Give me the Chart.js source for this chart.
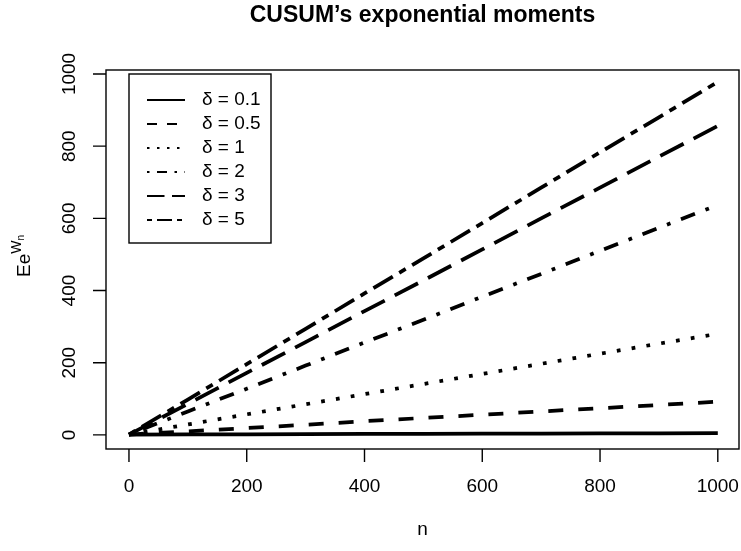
<!DOCTYPE html>
<html>
<head>
<meta charset="utf-8">
<script src="https://cdn.jsdelivr.net/npm/chart.js@4/dist/chart.umd.min.js"></script>
<style>
  html, body { margin: 0; padding: 0; background: #fff; }
  #wrap { width: 741px; height: 551px; position: relative; }
</style>
</head>
<body>
<div id="wrap"><canvas id="chart"></canvas></div>
<script>
const nValues = [0, 100, 200, 300, 400, 500, 600, 700, 800, 900, 1000];

// E e^{W_n} for each delta
const delta01 = [1, 1.4, 1.8, 2.2, 2.6, 3, 3.4, 3.8, 4.2, 4.6, 5];
const delta05 = [1, 10, 19, 28, 38, 47, 56, 65, 74, 83, 92];
const delta1 = [1, 29, 57, 85, 113, 141, 169, 197, 225, 253, 280];
const delta2 = [1, 65, 128, 192, 256, 319, 383, 446, 510, 574, 637];
const delta3 = [1, 86, 172, 257, 343, 428, 514, 600, 685, 771, 856];
const delta5 = [1, 98, 196, 294, 392, 489, 587, 685, 783, 880, 978];

const deltaLabels = ['0.1', '0.5', '1', '2', '3', '5'];
const xTicks = [0, 200, 400, 600, 800, 1000];
const yTicks = [0, 200, 400, 600, 800, 1000];

const FONT = '"Liberation Sans", Arial, Helvetica, sans-serif';

// R line types: solid, dashed, dotted, dotdash, longdash, twodash
const ltyUnits = [[], [4, 4], [1, 3], [1, 3, 4, 3], [7, 3], [2, 2, 6, 2]];
const plotUnit = 3.75;
const legendUnit = 2.5;

const seriesValues = [delta01, delta05, delta1, delta2, delta3, delta5];

const datasets = seriesValues.map((vals, i) => ({
  label: 'δ = ' + deltaLabels[i],
  data: nValues.map((n, j) => ({ x: n, y: vals[j] })),
  borderColor: '#000',
  borderWidth: 3.75,
  borderDash: ltyUnits[i].map(u => u * plotUnit),
  borderCapStyle: 'butt',
  borderJoinStyle: 'round',
  pointRadius: 0,
  tension: 0,
  fill: false
}));

const rDecorations = {
  id: 'rDecorations',
  afterDraw(chart) {
    const ctx = chart.ctx;
    const area = chart.chartArea;
    const xs = chart.scales.x;
    const ys = chart.scales.y;
    ctx.save();
    ctx.strokeStyle = '#000';
    ctx.fillStyle = '#000';
    ctx.lineWidth = 1.4;

    // plot box
    ctx.strokeRect(area.left, area.top, area.right - area.left, area.bottom - area.top);

    // x axis ticks and labels
    ctx.font = '19px ' + FONT;
    ctx.textAlign = 'center';
    ctx.textBaseline = 'middle';
    ctx.beginPath();
    xTicks.forEach(v => {
      const px = xs.getPixelForValue(v);
      ctx.moveTo(px, area.bottom);
      ctx.lineTo(px, area.bottom + 13);
    });
    ctx.stroke();
    xTicks.forEach(v => {
      ctx.fillText(String(v), xs.getPixelForValue(v), 487);
    });

    // y axis ticks and rotated labels
    ctx.beginPath();
    yTicks.forEach(v => {
      const py = ys.getPixelForValue(v);
      ctx.moveTo(area.left, py);
      ctx.lineTo(area.left - 13, py);
    });
    ctx.stroke();
    yTicks.forEach(v => {
      ctx.save();
      ctx.translate(70, ys.getPixelForValue(v));
      ctx.rotate(-Math.PI / 2);
      ctx.fillText(String(v), 0, 0);
      ctx.restore();
    });

    // title
    ctx.font = 'bold 23px ' + FONT;
    ctx.textBaseline = 'alphabetic';
    ctx.fillText("CUSUM\u2019s exponential moments", (area.left + area.right) / 2, 22);

    // x label
    ctx.font = '19px ' + FONT;
    ctx.textBaseline = 'middle';
    ctx.fillText('n', (area.left + area.right) / 2, 530);

    // y label: E e^{W_n}
    ctx.save();
    ctx.translate(30, 256);
    ctx.rotate(-Math.PI / 2);
    ctx.textAlign = 'left';
    ctx.textBaseline = 'alphabetic';
    ctx.font = '19px ' + FONT;
    const wBase = ctx.measureText('Ee').width;
    ctx.font = '14px ' + FONT;
    const wW = ctx.measureText('W').width;
    ctx.font = '10px ' + FONT;
    const wN = ctx.measureText('n').width;
    const total = wBase + wW + wN;
    let x0 = -total / 2;
    ctx.font = '19px ' + FONT;
    ctx.fillText('Ee', x0, 0);
    ctx.font = '14px ' + FONT;
    ctx.fillText('W', x0 + wBase, -9);
    ctx.font = '10px ' + FONT;
    ctx.fillText('n', x0 + wBase + wW, -6);
    ctx.restore();

    // legend
    const lx = 129, ly = 74, lw = 142, lh = 169;
    ctx.lineWidth = 1.4;
    ctx.strokeRect(lx, ly, lw, lh);
    ctx.font = '19px ' + FONT;
    ctx.textAlign = 'left';
    ctx.textBaseline = 'middle';
    deltaLabels.forEach((d, i) => {
      const rowY = 100 + i * 24;
      ctx.save();
      ctx.lineWidth = 2.2;
      ctx.lineCap = 'butt';
      ctx.setLineDash(ltyUnits[i].map(u => u * legendUnit));
      ctx.beginPath();
      ctx.moveTo(147, rowY);
      ctx.lineTo(185, rowY);
      ctx.stroke();
      ctx.restore();
      ctx.fillText('δ = ' + d, 202, rowY);
    });

    ctx.restore();
  }
};

new Chart(document.getElementById('chart'), {
  type: 'line',
  data: { datasets: datasets },
  options: {
    responsive: true,
    maintainAspectRatio: false,
    animation: false,
    layout: { padding: { left: 106, right: 2, top: 70, bottom: 102 } },
    plugins: {
      legend: { display: false },
      tooltip: { enabled: false },
      title: { display: false }
    },
    scales: {
      x: { type: 'linear', min: -39, max: 1036, display: false },
      y: { type: 'linear', min: -39, max: 1011, display: false }
    }
  },
  plugins: [rDecorations]
});
</script>
</body>
</html>
